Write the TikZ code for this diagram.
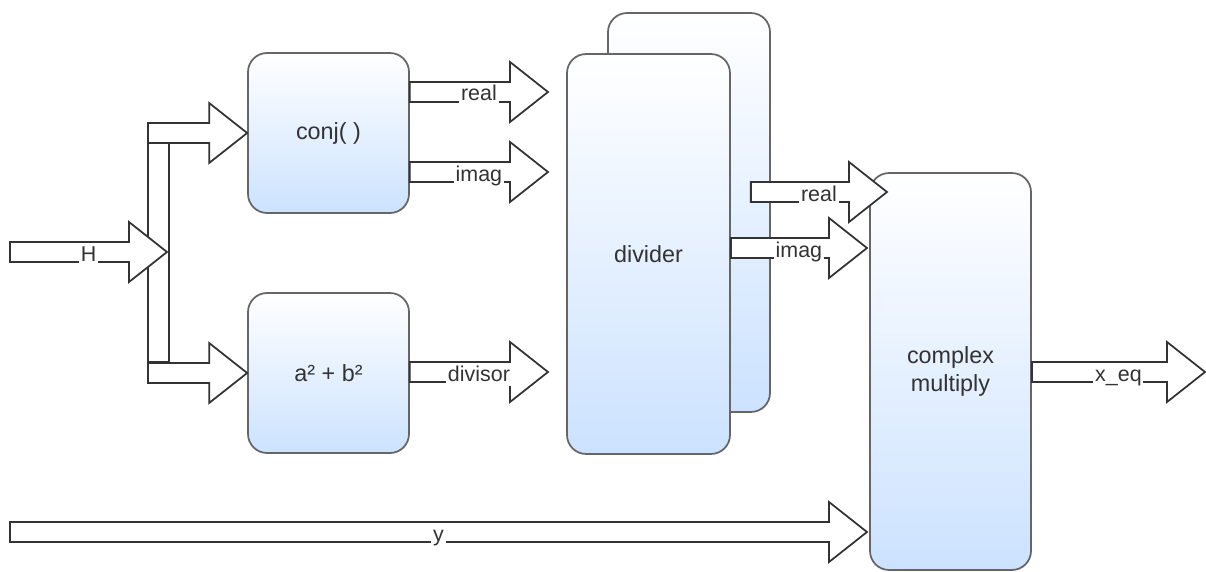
\documentclass[tikz,border=0pt]{standalone}
\usepackage{fontspec}
\setmainfont{Liberation Sans}
\usetikzlibrary{calc}
\definecolor{boxblue}{HTML}{CCE2FF}
\definecolor{edgegray}{HTML}{666666}
\definecolor{inkdark}{HTML}{333333}

\tikzset{
  block/.style={draw=edgegray, line width=1pt, rounded corners=0.38cm,
    top color=white, bottom color=boxblue, text=inkdark, align=center,
    inner sep=0pt, font=\fontsize{13.3}{16}\selectfont},
  % hollow flat arrow, shaft and head as one outline
  flex/.style={draw=inkdark, fill=white, line width=1pt, line join=miter,
    to path={let \p1=(\tikztostart), \p2=(\tikztotarget) in
      (\x1,\y1+0.2cm) -- (\x2-0.76cm,\y1+0.2cm) -- (\x2-0.76cm,\y1+0.6cm)
      -- (\x2,\y1) -- (\x2-0.76cm,\y1-0.6cm) -- (\x2-0.76cm,\y1-0.2cm)
      -- (\x1,\y1-0.2cm) -- cycle}},
  busline/.style={draw=inkdark, fill=white, line width=1pt},
  lbl/.style={fill=white, text=inkdark, inner sep=1pt, anchor=base,
    text height=0.9em, text depth=0.2em, font=\fontsize{12.2}{14}\selectfont}
}

\begin{document}
\begin{tikzpicture}[x=0.02cm, y=-0.02cm]
  \useasboundingbox (0,0) rectangle (1206,571);

  % Blocks
  \node[block, minimum width=3.22cm, minimum height=3.2cm] (conj) at (328.5,133) {conj( )};
  \node[block, minimum width=3.22cm, minimum height=3.2cm] (sumsq) at (328.5,373) {a² + b²};
  \node[block, minimum width=3.24cm, minimum height=7.98cm] (divback) at (689,212.5) {};
  \node[block, minimum width=3.26cm, minimum height=8cm] (divider) at (648.5,254) {divider};
  \node[block, minimum width=3.22cm, minimum height=7.94cm] (cmult) at (950.5,371.5) {complex\\multiply};

  % Arrow end points
  \coordinate (hin) at (10,252);
  \coordinate (split) at (167,252);
  \coordinate (tapup) at (148,133);
  \coordinate (tapdn) at (148,373);
  \coordinate (conjre) at ($(conj.east)+(0,-41)$);
  \coordinate (conjim) at ($(conj.east)+(0,39)$);
  \coordinate (sumsqout) at ($(sumsq.east)+(0,-1)$);
  \coordinate (divinre) at (548,92);
  \coordinate (divinim) at (548,172);
  \coordinate (divinsq) at (548,372);
  \coordinate (divre) at ($(divider.east)+(20,-62)$);
  \coordinate (divim) at ($(divider.east)+(0,-6)$);
  \coordinate (cmre) at (887,192);
  \coordinate (cmim) at (867,248);
  \coordinate (cmout) at ($(cmult.east)+(0,0.5)$);
  \coordinate (xeq) at (1205,372);
  \coordinate (yin) at (10,532);
  \coordinate (cmy) at (867,532);

  % Splitter bus
  \draw[busline] (148,142) rectangle (169,362);
  \draw[flex] (tapup) to (conj.west);
  \draw[flex] (tapdn) to (sumsq.west);

  % Input H
  \draw[flex] (hin) to (split);
  \node[lbl] (hlbl) at ($(hin)!.5!(split)+(0,9)$) {H};

  % conj( ) and a^2+b^2 outputs
  \draw[flex] (conjre) to (divinre);
  \node[lbl] (lconjre) at ($(conjre)!.5!(divinre)+(0,9)$) {real};
  \draw[flex] (conjim) to (divinim);
  \node[lbl] (lconjim) at ($(conjim)!.5!(divinim)+(0,9)$) {imag};
  \draw[flex] (sumsqout) to (divinsq);
  \node[lbl] (ldivisor) at ($(sumsqout)!.5!(divinsq)+(0,9)$) {divisor};

  % divider outputs
  \draw[flex] (divre) to (cmre);
  \node[lbl] (ldivre) at ($(divre)!.5!(cmre)+(0,9)$) {real};
  \draw[flex] (divim) to (cmim);
  \node[lbl] (ldivim) at ($(divim)!.5!(cmim)+(0,9)$) {imag};

  % y input and result
  \draw[flex] (yin) to (cmy);
  \node[lbl] (ly) at ($(yin)!.5!(cmy)+(0,9)$) {y};
  \draw[flex] (cmout) to (xeq);
  \node[lbl] (lxeq) at ($(cmout)!.5!(xeq)+(0,9)$) {x\_eq};
\end{tikzpicture}
\end{document}
